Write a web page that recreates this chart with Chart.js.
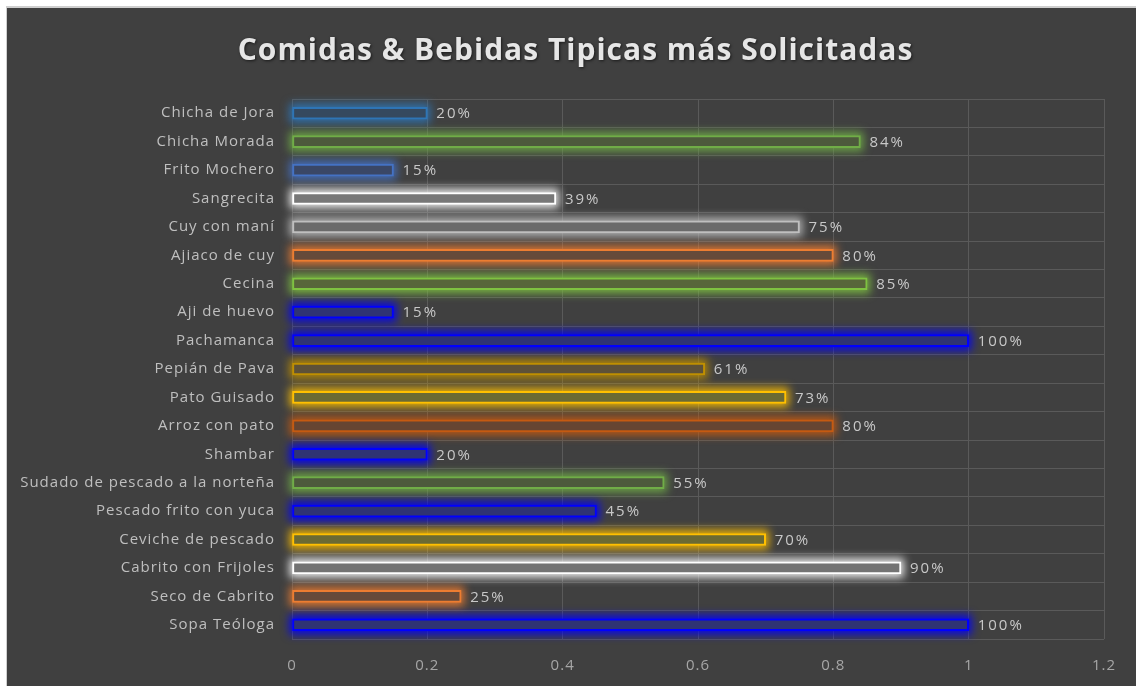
<!DOCTYPE html>
<html>
<head>
<meta charset="utf-8">
<script src="https://cdn.jsdelivr.net/npm/chart.js@4"></script>
<style>
  html, body { margin: 0; padding: 0; background: #ffffff; }
  #frame {
    position: absolute; left: 6px; top: 6px;
    width: 1130px; height: 680px;
    border-left: 1px solid #cfcfcf; border-top: 2px solid #cfcfcf;
    background: #404040;
  }
  #chart { display: block; }
</style>
</head>
<body>
<div id="frame"><canvas id="chart" width="1129" height="678"></canvas></div>
<script>
// Chart data
const chartTitle = 'Comidas & Bebidas Tipicas más Solicitadas';
const categories = [
  'Chicha de Jora', 'Chicha Morada', 'Frito Mochero', 'Sangrecita', 'Cuy con maní',
  'Ajiaco de cuy', 'Cecina', 'Aji de huevo', 'Pachamanca', 'Pepián de Pava',
  'Pato Guisado', 'Arroz con pato', 'Shambar', 'Sudado de pescado a la norteña',
  'Pescado frito con yuca', 'Ceviche de pescado', 'Cabrito con Frijoles',
  'Seco de Cabrito', 'Sopa Teóloga'
];
const values = [0.20, 0.84, 0.15, 0.39, 0.75, 0.80, 0.85, 0.15, 1.00, 0.61,
                0.73, 0.80, 0.20, 0.55, 0.45, 0.70, 0.90, 0.25, 1.00];
const xTicks = [0, 0.2, 0.4, 0.6, 0.8, 1, 1.2];

// Bar styles (outline + dim fill, one per bar)
const borderColors = [
  '#2e75b6', '#70ad47', '#4472c4', '#ffffff', '#bfbfbf',
  '#ed7d31', '#7fc241', '#0000ff', '#0000ff', '#bf8f00',
  '#ffc000', '#c55a11', '#0000ff', '#70ad47', '#0000ff',
  '#ffc000', '#ffffff', '#ed7d31', '#0000ff'
];
const fillColors = [
  '#35495f', '#4d5a3c', '#3a4766', '#777777', '#6a6a6a',
  '#664a3a', '#58663a', '#2f3374', '#2f3374', '#5d5138',
  '#6b6a33', '#664532', '#2f3374', '#4d5a3c', '#2f3374',
  '#6b6a33', '#737373', '#664a3a', '#2f3374'
];

const FONT = "'Open Sans', 'DejaVu Sans', sans-serif";

// Soft glow behind each bar, coloured like its outline
const barGlow = {
  id: 'barGlow',
  beforeDatasetsDraw(chart) {
    const ctx = chart.ctx;
    const meta = chart.getDatasetMeta(0);
    ctx.save();
    ctx.filter = 'blur(4px)';
    ctx.globalAlpha = 0.85;
    meta.data.forEach((bar, i) => {
      const left = Math.min(bar.x, bar.base);
      const w = Math.abs(bar.x - bar.base);
      ctx.fillStyle = borderColors[i];
      ctx.fillRect(left - 3, bar.y - bar.height / 2 - 4, w + 6, bar.height + 8);
    });
    ctx.restore();
  }
};

// Slightly spaced text like the original rendering, plus the title
const spacedTitle = {
  id: 'spacedTitle',
  beforeDraw(chart) { chart.ctx.letterSpacing = '1px'; },
  afterDraw(chart) {
    const ctx = chart.ctx;
    ctx.save();
    ctx.letterSpacing = '1px';
    ctx.font = 'bold 30px ' + FONT;
    ctx.fillStyle = '#e6e6e6';
    ctx.textAlign = 'center';
    ctx.textBaseline = 'middle';
    ctx.shadowColor = 'rgba(0,0,0,0.6)';
    ctx.shadowBlur = 3;
    ctx.shadowOffsetX = 1;
    ctx.shadowOffsetY = 1;
    ctx.fillText(chartTitle, chart.width / 2 + 4, 43);
    ctx.restore();
  }
};

// Percentage labels at the end of each bar
const valueLabels = {
  id: 'valueLabels',
  afterDatasetsDraw(chart) {
    const ctx = chart.ctx;
    const meta = chart.getDatasetMeta(0);
    ctx.save();
    ctx.letterSpacing = '2px';
    ctx.font = '15px ' + FONT;
    ctx.fillStyle = '#c8c8c8';
    ctx.textAlign = 'left';
    ctx.textBaseline = 'middle';
    meta.data.forEach((bar, i) => {
      ctx.fillText(Math.round(values[i] * 100) + '%', bar.x + 9, bar.y + 1);
    });
    ctx.restore();
  }
};

new Chart(document.getElementById('chart'), {
  type: 'bar',
  data: {
    labels: categories,
    datasets: [{
      data: values,
      backgroundColor: fillColors,
      borderColor: borderColors,
      borderWidth: 2,
      borderSkipped: false,
      barThickness: 12
    }]
  },
  options: {
    indexAxis: 'y',
    responsive: false,
    animation: false,
    events: [],
    layout: { padding: { left: 0, right: 32, top: 91, bottom: 0 } },
    plugins: {
      legend: { display: false },
      tooltip: { enabled: false },
      title: { display: false }
    },
    scales: {
      x: {
        min: 0,
        max: 1.2,
        afterBuildTicks(axis) { axis.ticks = xTicks.map(v => ({ value: v })); },
        afterFit(axis) { axis.height = 47; },
        grid: { color: '#5a5a5a', lineWidth: 1, drawTicks: false },
        border: { display: false },
        ticks: {
          color: '#a6a6a6',
          padding: 18,
          font: { family: FONT, size: 15 },
          callback: v => String(v)
        }
      },
      y: {
        afterFit(axis) { axis.width = 285; },
        grid: { color: '#5a5a5a', lineWidth: 1, drawTicks: false },
        border: { display: false },
        ticks: {
          color: '#bfbfbf',
          padding: 17,
          font: { family: FONT, size: 15 }
        }
      }
    }
  },
  plugins: [barGlow, spacedTitle, valueLabels]
});
</script>
</body>
</html>
